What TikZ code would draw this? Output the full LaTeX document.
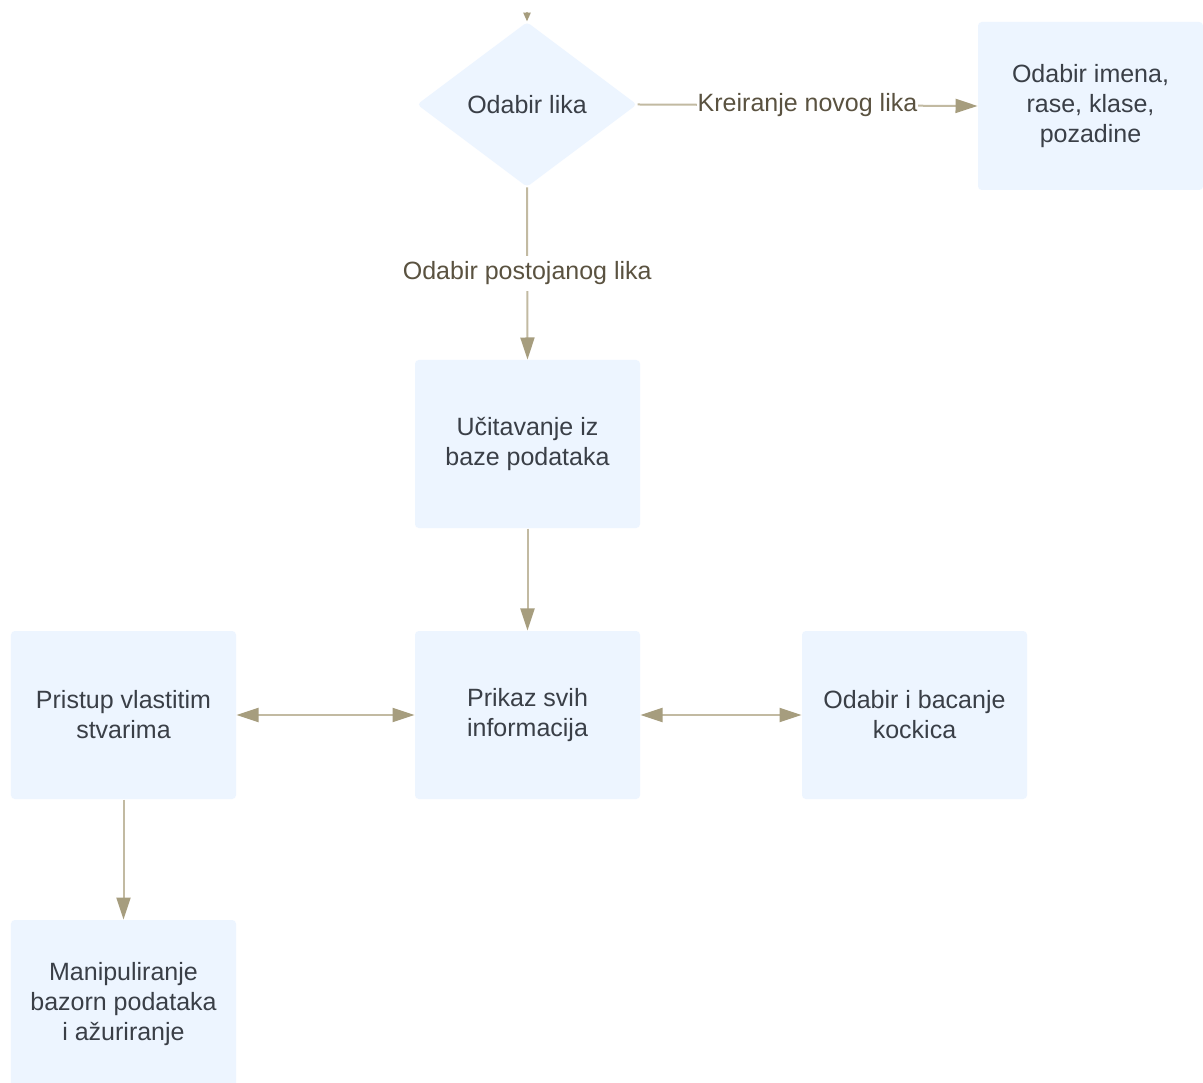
\documentclass[tikz,border=0pt]{standalone}
\usepackage{fontspec}
\setmainfont{Liberation Sans}
\usetikzlibrary{shapes.geometric}
\usetikzlibrary{arrows.meta}

\definecolor{boxfill}{HTML}{EDF5FF}
\definecolor{txtgray}{HTML}{3A3F47}
\definecolor{lblbrown}{HTML}{5A5240}
\definecolor{linekhaki}{HTML}{C2BAA2}
\definecolor{headkhaki}{HTML}{A69D7E}

\tikzset{
	>={Triangle[length=8.8pt,width=5.6pt,color=headkhaki]},
	korak/.style={rectangle, rounded corners=1.5pt, fill=boxfill, minimum width=90pt, minimum height=67.2pt, align=center, text=txtgray, font=\fontsize{10}{12}\selectfont},
	odluka/.style={diamond, rounded corners=1.5pt, fill=boxfill, minimum width=88pt, minimum height=66pt, inner sep=0pt, text=txtgray, font=\fontsize{10}{12}\selectfont},
	veza/.style={draw=linekhaki, line width=0.8pt},
	oznaka/.style={fill=white, text=lblbrown, inner xsep=0.3pt, inner ysep=1.5pt, font=\fontsize{10}{12}\selectfont}
}

\begin{document}
\begin{tikzpicture}[x=0.4pt, y=-0.4pt]

		\useasboundingbox[fill=white] (0,0) rectangle (1203,1083);

		\node[odluka] (lik) at (527,104.5) {Odabir lika};
		\node[korak] (imena) at (1090.5,106) {Odabir imena,\\rase, klase,\\pozadine};
		\node[korak] (ucitavanje) at (527.5,444) {Učitavanje iz\\baze podataka};
		\node[korak] (prikaz) at (527.5,715) {Prikaz svih\\informacija};
		\node[korak] (pristup) at (123.5,715) {Pristup vlastitim\\stvarima};
		\node[korak] (kockice) at (914.5,715) {Odabir i bacanje\\kockica};
		\node[korak] (baza) at (123.5,1004) {Manipuliranje\\bazorn podataka\\i ažuriranje};

		\coordinate (ulaz) at (527,12);

		\draw[veza, -{Triangle[length=3.5pt,width=2.8pt,color=headkhaki]}] (ulaz) -- (lik.north);
		\draw[veza, ->] (lik.east) -- (imena.west) node[oznaka, midway] {Kreiranje novog lika};
		\draw[veza, ->] (lik.south) -- (ucitavanje.north) node[oznaka, midway, inner ysep=2.5pt] {Odabir postojanog lika};
		\draw[veza, ->] (ucitavanje.south) -- (prikaz.north);
		\draw[veza, <->] (pristup.east) -- (prikaz.west);
		\draw[veza, <->] (prikaz.east) -- (kockice.west);
		\draw[veza, ->] (pristup.south) -- (baza.north);

	\end{tikzpicture}
\end{document}
